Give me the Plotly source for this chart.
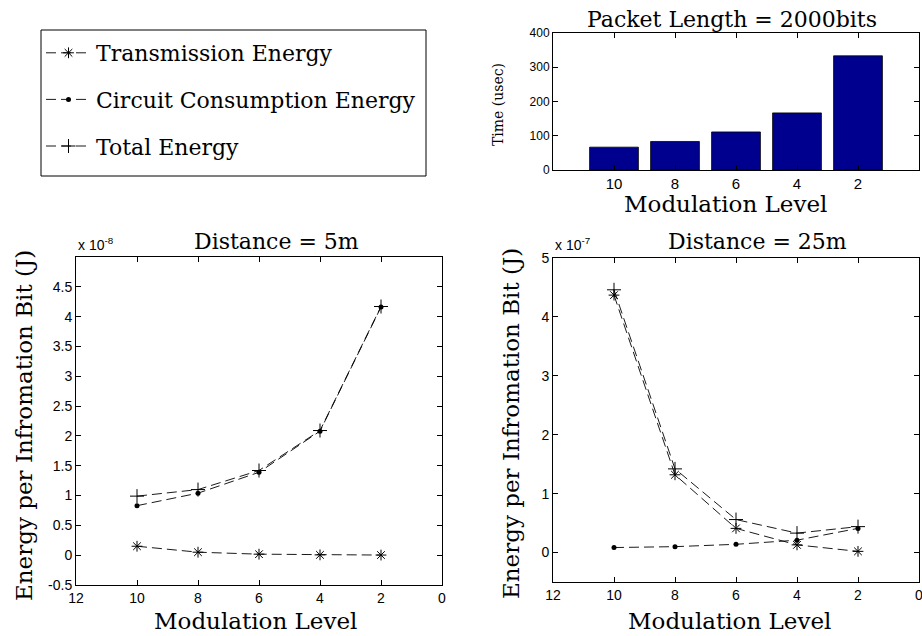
import plotly.graph_objects as go

W, H = 922, 636

# ---------------- data ----------------
mod_levels = [10, 8, 6, 4, 2]
mod_labels = ["10", "8", "6", "4", "2"]

# Packet length = 2000 bits: time in microseconds
packet_time_us = [66.7, 83.3, 111.1, 166.7, 333.3]

# Distance = 5 m  (values in units of 1e-8 J)
trans_5m = [0.15, 0.05, 0.017, 0.005, 0.002]
circ_5m = [0.83, 1.04, 1.39, 2.08, 4.16]
total_5m = [0.99, 1.10, 1.42, 2.09, 4.17]

# Distance = 25 m (values in units of 1e-7 J)
trans_25m = [4.37, 1.32, 0.41, 0.13, 0.02]
circ_25m = [0.085, 0.10, 0.14, 0.21, 0.41]
total_25m = [4.46, 1.42, 0.56, 0.33, 0.44]

series_names = ["Transmission Energy", "Circuit Consumption Energy", "Total Energy"]

# ---------------- styling ----------------
SERIF = "DejaVu Serif"
SANS = "Liberation Sans"
DASH = "10px,5px"
marker_styles = [
    dict(symbol="asterisk-open", size=9, line=dict(color="black", width=1)),
    dict(symbol="circle", size=5, color="black", line=dict(width=0)),
    dict(symbol="cross-thin-open", size=10, line=dict(color="black", width=1)),
]


def px_x(p):
    return p / W


def px_y(p):
    return 1 - p / H


fig = go.Figure()

# Bar chart (top right)
fig.add_trace(go.Bar(
    x=mod_labels, y=packet_time_us, xaxis="x3", yaxis="y3",
    marker=dict(color="#00008F", line=dict(color="black", width=0.8)),
    showlegend=False,
))

# Line plots
for i, (name, ys) in enumerate(zip(series_names, [trans_5m, circ_5m, total_5m])):
    fig.add_trace(go.Scatter(
        x=mod_levels, y=ys, xaxis="x", yaxis="y", name=name,
        mode="lines+markers", line=dict(color="black", width=0.9, dash=DASH),
        marker=marker_styles[i], legendgroup=f"g{i}", showlegend=True,
    ))
for i, (name, ys) in enumerate(zip(series_names, [trans_25m, circ_25m, total_25m])):
    fig.add_trace(go.Scatter(
        x=mod_levels, y=ys, xaxis="x2", yaxis="y2", name=name,
        mode="lines+markers", line=dict(color="black", width=0.9, dash=DASH),
        marker=marker_styles[i], legendgroup=f"g{i}", showlegend=False,
    ))

axis_common = dict(
    showline=True, linecolor="black", linewidth=1, mirror="ticks",
    ticks="inside", ticklen=5, tickcolor="black", tickwidth=1,
    showgrid=False, zeroline=False, automargin=False,
    tickfont=dict(family=SANS, size=14, color="black"),
)

fig.update_layout(
    template="none",
    width=W, height=H,
    margin=dict(l=0, r=0, t=0, b=0),
    paper_bgcolor="white", plot_bgcolor="white",
    showlegend=True,
    legend=dict(
        x=px_x(41), y=px_y(32), xanchor="left", yanchor="top",
        bgcolor="rgba(0,0,0,0)", borderwidth=0,
        font=dict(family=SERIF, size=22, color="black"),
        traceorder="grouped", tracegroupgap=15, itemwidth=45,
    ),
    shapes=[dict(type="rect", xref="paper", yref="paper",
                 x0=px_x(41), x1=px_x(426), y0=px_y(176), y1=px_y(30),
                 line=dict(color="black", width=1), fillcolor="white", layer="below")],
    # bottom-left
    xaxis=dict(domain=[px_x(76), px_x(442)], range=[12, 0],
               tickvals=[0, 2, 4, 6, 8, 10, 12], anchor="y", **axis_common),
    yaxis=dict(domain=[px_y(585), px_y(257)], range=[-0.5, 5],
               tickvals=[-0.5, 0, 0.5, 1, 1.5, 2, 2.5, 3, 3.5, 4, 4.5],
               ticktext=["-0.5", "0", "0.5", "1", "1.5", "2", "2.5", "3", "3.5", "4", "4.5"],
               anchor="x", **axis_common),
    # bottom-right
    xaxis2=dict(domain=[px_x(553), px_x(919)], range=[12, 0],
                tickvals=[0, 2, 4, 6, 8, 10, 12], anchor="y2",
                ticklabeloverflow="allow", **axis_common),
    yaxis2=dict(domain=[px_y(582), px_y(258)], range=[-0.5, 5],
                tickvals=[0, 1, 2, 3, 4, 5], anchor="x2", **axis_common),
    # top-right bar
    xaxis3=dict(domain=[px_x(553), px_x(919)], type="category", range=[-1, 5],
                anchor="y3", ticklabelstandoff=0,
                **{**axis_common, "tickfont": dict(family=SANS, size=15, color="black")}),
    yaxis3=dict(domain=[px_y(170), px_y(33)], range=[0, 400],
                tickvals=[0, 100, 200, 300, 400], anchor="x3",
                **{**axis_common, "tickfont": dict(family=SANS, size=12, color="black")}),
    bargap=0.2,
)

ann = []


def text(t, x, y, size, family=SERIF, angle=0, xanchor="center", yanchor="middle"):
    ann.append(dict(text=t, x=px_x(x), y=px_y(y), xref="paper", yref="paper",
                    showarrow=False, textangle=angle, xanchor=xanchor, yanchor=yanchor,
                    font=dict(family=family, size=size, color="black")))


text("Packet Length = 2000bits", 732, 19, 22)
text("Modulation Level", 725, 204, 23)
text("Time (usec)", 498, 104, 14, angle=-90)

text("Distance = 5m", 276, 241, 22)
text("Distance = 25m", 757, 241, 22)
text("Modulation Level", 255, 621, 23)
text("Modulation Level", 729, 621, 23)
text("Energy per Infromation Bit (J)", 24, 426, 23, angle=-90)
text("Energy per Infromation Bit (J)", 511, 424, 23, angle=-90)
text("x 10<sup>-8</sup>", 76, 255, 14, family=SANS, xanchor="left", yanchor="bottom")
text("x 10<sup>-7</sup>", 553, 255, 14, family=SANS, xanchor="left", yanchor="bottom")

fig.update_layout(annotations=ann)

fig.write_html("out.html")
